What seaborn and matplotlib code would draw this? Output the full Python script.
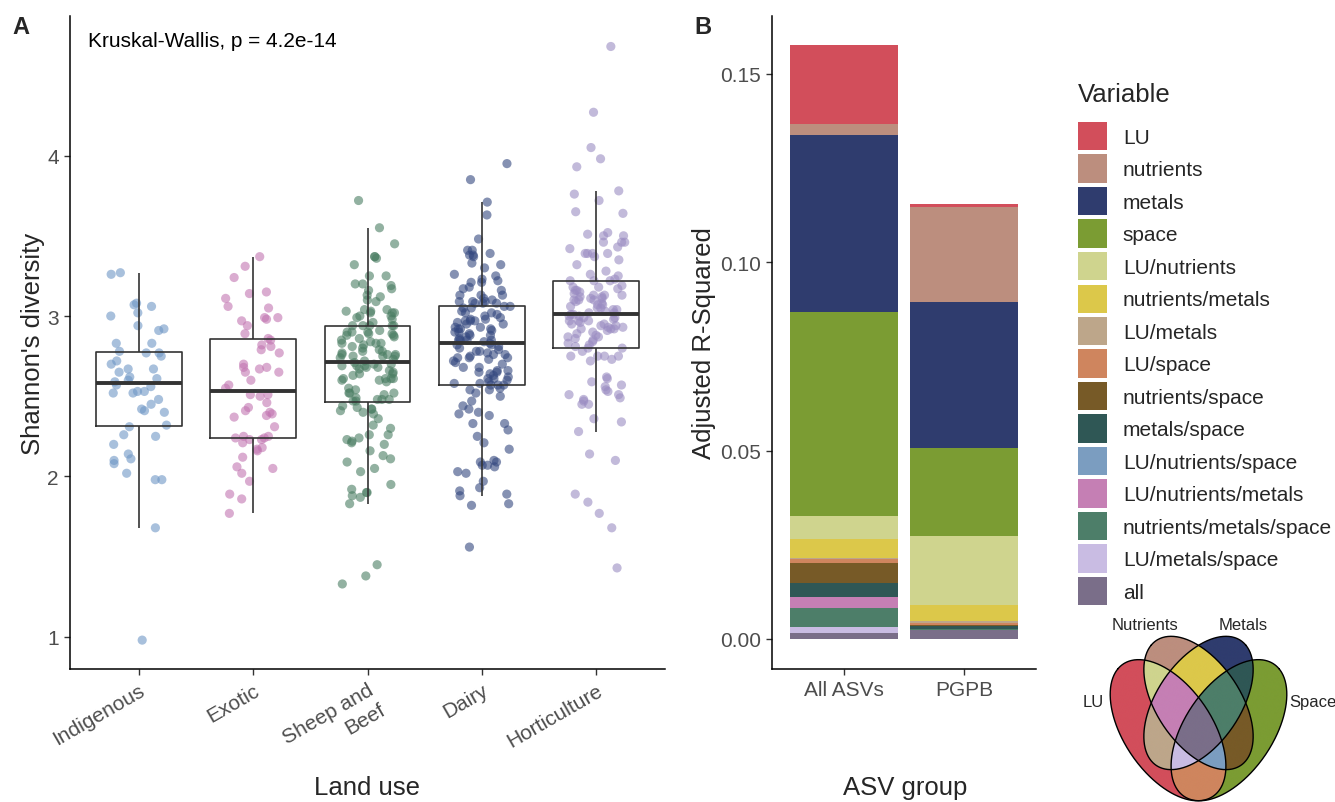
import numpy as np
import pandas as pd
import matplotlib.pyplot as plt
import seaborn as sns
from matplotlib.patches import Patch


land_use = ["Indigenous", "Exotic", "Sheep and\nBeef", "Dairy", "Horticulture"]

indigenous = [3.27, 3.26, 3.08, 3.06, 3.07, 3.02, 3.00, 2.94, 2.92, 2.91, 2.83, 2.83, 2.75,
              2.77, 2.78, 2.77, 2.70, 2.72, 2.67, 2.65, 2.67, 2.61, 2.62, 2.60, 2.57, 2.59,
              2.56, 2.53, 2.52, 2.53, 2.52, 2.48, 2.45, 2.41, 2.42, 2.40, 2.32, 2.31, 2.26,
              2.25, 2.20, 2.11, 2.10, 2.14, 2.08, 2.02, 1.98, 1.98, 1.68, 0.98]

exotic = [3.37, 3.31, 3.24, 3.14, 3.15, 3.06, 3.11, 3.05, 2.97, 2.99, 2.98, 2.99, 2.94, 2.89,
          2.85, 2.86, 2.82, 2.81, 2.79, 2.77, 2.70, 2.68, 2.65, 2.68, 2.67, 2.65, 2.60, 2.57,
          2.55, 2.51, 2.51, 2.50, 2.46, 2.43, 2.41, 2.37, 2.40, 2.39, 2.38, 2.31, 2.23, 2.24,
          2.24, 2.25, 2.25, 2.23, 2.21, 2.17, 2.18, 2.16, 2.12, 2.06, 2.05, 2.02, 1.97, 1.89,
          1.86, 1.77]

sheep_beef = [3.72, 3.55, 3.45, 3.37, 3.32, 3.36, 3.37, 3.25, 3.25, 3.19, 3.20, 3.20, 3.16,
              3.17, 3.12, 3.13, 3.10, 3.09, 3.04, 3.02, 3.02, 3.02, 3.04, 3.03, 3.03, 3.00,
              3.00, 2.99, 2.98, 2.94, 2.94, 2.94, 2.96, 2.94, 2.94, 2.90, 2.91, 2.89, 2.90,
              2.88, 2.90, 2.89, 2.88, 2.87, 2.86, 2.85, 2.84, 2.83, 2.83, 2.83, 2.81, 2.79,
              2.77, 2.76, 2.76, 2.75, 2.76, 2.75, 2.75, 2.69, 2.68, 2.70, 2.67, 2.69, 2.70,
              2.69, 2.68, 2.65, 2.64, 2.63, 2.60, 2.59, 2.61, 2.61, 2.60, 2.61, 2.61, 2.52,
              2.52, 2.52, 2.54, 2.51, 2.55, 2.49, 2.48, 2.47, 2.48, 2.48, 2.43, 2.47, 2.41,
              2.40, 2.44, 2.42, 2.36, 2.42, 2.39, 2.32, 2.30, 2.26, 2.26, 2.24, 2.23, 2.21,
              2.20, 2.22, 2.13, 2.11, 2.16, 2.09, 2.05, 2.03, 1.95, 1.92, 1.88, 1.90, 1.90,
              1.83, 1.87, 1.45, 1.38, 1.33,
              2.80, 2.78, 2.72, 2.74, 2.71, 2.73, 2.66, 2.64, 2.78, 2.82]

dairy = [3.95, 3.85, 3.71, 3.63, 3.48, 3.41, 3.41, 3.39, 3.38, 3.38, 3.37, 3.33, 3.32, 3.30,
         3.26, 3.25, 3.23, 3.22, 3.21, 3.21, 3.16, 3.17, 3.18, 3.13, 3.13, 3.13, 3.09, 3.11,
         3.10, 3.09, 3.08, 3.09, 3.08, 3.08, 3.05, 3.06, 3.06, 3.05, 3.02, 3.02, 3.01, 2.99,
         2.98, 2.97, 2.96, 2.97, 2.98, 2.95, 2.93, 2.92, 2.92, 2.91, 2.92, 2.90, 2.90, 2.88,
         2.89, 2.85, 2.85, 2.85, 2.84, 2.85, 2.82, 2.82, 2.79, 2.78, 2.78, 2.76, 2.74, 2.74,
         2.76, 2.74, 2.71, 2.72, 2.66, 2.68, 2.65, 2.64, 2.65, 2.61, 2.61, 2.58, 2.58, 2.57,
         2.57, 2.57, 2.59, 2.55, 2.54, 2.52, 2.54, 2.50, 2.47, 2.44, 2.42, 2.40, 2.39, 2.38,
         2.33, 2.33, 2.29, 2.25, 2.21, 2.17, 2.10, 2.07, 2.09, 2.09, 2.06, 2.02, 2.03, 2.07,
         1.97, 1.93, 1.88, 1.89, 1.91, 1.83, 1.82, 1.56,
         2.60, 2.62, 2.63, 2.66, 2.68, 2.70, 2.73, 2.75, 2.77, 2.80, 2.81, 2.83, 2.86, 2.87,
         2.88, 2.93, 2.95, 2.97, 3.00, 3.03]

horticulture = [4.68, 4.27, 4.05, 3.98, 3.93, 3.78, 3.76, 3.72, 3.64, 3.65, 3.52, 3.50, 3.46,
                3.51, 3.50, 3.46, 3.46, 3.43, 3.39, 3.42, 3.39, 3.35, 3.37, 3.39, 3.39, 3.32,
                3.28, 3.26, 3.25, 3.22, 3.17, 3.18, 3.23, 3.22, 3.22, 3.13, 3.16, 3.13, 3.13,
                3.12, 3.12, 3.15, 3.11, 3.08, 3.07, 3.10, 3.10, 3.10, 3.05, 3.04, 3.05, 3.02,
                3.02, 2.97, 2.99, 3.00, 2.97, 2.95, 2.94, 2.92, 2.93, 2.92, 2.91, 2.93, 2.94,
                2.85, 2.87, 2.87, 2.83, 2.88, 2.82, 2.81, 2.80, 2.75, 2.75, 2.72, 2.73, 2.75,
                2.75, 2.62, 2.59, 2.61, 2.57, 2.56, 2.54, 2.53, 2.49, 2.51, 2.47, 2.51, 2.48,
                2.45, 2.45, 2.36, 2.34, 2.28, 2.14, 2.10, 1.89, 1.84, 1.77, 1.68, 1.43,
                2.78, 2.80, 2.84, 2.86, 2.89, 2.90, 2.92, 2.95, 2.96, 2.98, 2.99, 3.00, 3.01,
                3.03, 3.04, 3.06, 3.07, 3.09, 3.11, 3.14, 3.16, 3.18, 3.19, 2.97, 3.01]

point_colours = ["#6F97C6", "#C275B1", "#4A7D62", "#34487F", "#9A8CC2"]
kruskal_label = "Kruskal-Wallis, p = 4.2e-14"

# ---- panel B: variance partitioning (adjusted R-squared per fraction)
asv_groups = ["All ASVs", "PGPB"]
variables = ["LU", "nutrients", "metals", "space", "LU/nutrients", "nutrients/metals",
             "LU/metals", "LU/space", "nutrients/space", "metals/space",
             "LU/nutrients/space", "LU/nutrients/metals", "nutrients/metals/space",
             "LU/metals/space", "all"]
all_asvs_r2 = [0.0209, 0.0031, 0.0468, 0.0543, 0.0061, 0.0050, 0.0002, 0.0012, 0.0053,
               0.0037, 0.0001, 0.0029, 0.0050, 0.0016, 0.0015]
pgpb_r2 = [0.0008, 0.0252, 0.0387, 0.0236, 0.0183, 0.0042, 0.0004, 0.0006, 0.0004,
           0.0007, 0.0000, 0.0000, 0.0002, 0.0000, 0.0024]
variable_colours = ["#D24E5B", "#BC8E7E", "#2F3C6E", "#7B9C33", "#CFD48E", "#DCC84A",
                    "#BDA68A", "#CF855E", "#775A27", "#2F5755", "#7B9DC0", "#C57FB4",
                    "#4D7E69", "#C9BCE3", "#7A6E89"]

# four-set Venn key: (centre x, centre y, semi-axis a, semi-axis b, rotation)
venn_names = ["LU", "Nutrients", "Metals", "Space"]
venn_ellipses = [(0.35, 0.47, 0.35, 0.20, 135),
                 (0.50, 0.58, 0.33, 0.19, 135),
                 (0.50, 0.58, 0.33, 0.19, 45),
                 (0.65, 0.47, 0.35, 0.20, 45)]


sns.set_theme(style="ticks")
plt.rcParams["font.family"] = ["Liberation Sans", "DejaVu Sans"]
plt.rcParams["axes.linewidth"] = 1.1

W, H = 1335, 803
fig = plt.figure(figsize=(W / 100, H / 100), dpi=100)


def px_axes(left, top, right, bottom):
    return fig.add_axes([left / W, 1 - bottom / H, (right - left) / W, (bottom - top) / H])


def style_axes(ax):
    sns.despine(ax=ax)
    for s in ("left", "bottom"):
        ax.spines[s].set_color("black")
        ax.spines[s].set_linewidth(1.1)
    ax.tick_params(length=4, width=1.0, color="#333333", labelsize=15,
                   labelcolor="#4D4D4D", pad=4)


# ---- panel A
groups = [indigenous, exotic, sheep_beef, dairy, horticulture]
div = pd.DataFrame({"land_use": np.repeat(land_use, [len(g) for g in groups]),
                    "shannon": np.concatenate(groups)})

axA = px_axes(70, 17, 665, 670)
np.random.seed(11)
sns.stripplot(data=div, x="land_use", y="shannon", hue="land_use", order=land_use,
              hue_order=land_use, palette=point_colours, jitter=0.25, size=6.6,
              alpha=0.6, linewidth=0, legend=False, zorder=1, ax=axA)
sns.boxplot(data=div, x="land_use", y="shannon", order=land_use, fill=False,
            color="#333333", linewidth=1.2, width=0.75, showfliers=False,
            showcaps=False, medianprops=dict(linewidth=2.8), ax=axA)

axA.set_xlim(-0.6, 4.6)
axA.set_ylim(0.80, 4.87)
axA.set_yticks([1, 2, 3, 4])
style_axes(axA)
axA.set_xticks(range(len(land_use)))
axA.set_xticklabels(land_use, rotation=30, ha="right", va="top",
                    rotation_mode="anchor", multialignment="right")
axA.set_xlabel("Land use", fontsize=18.5)
axA.set_ylabel("Shannon's diversity", fontsize=18.5)
axA.xaxis.set_label_coords(0.5, (670 - 776) / 653)
axA.yaxis.set_label_coords((33 - 70) / 595, 0.5)
axA.yaxis.label.set_va("center")
axA.text(0.030, 0.962, kruskal_label, transform=axA.transAxes, fontsize=15,
         ha="left", va="center", color="black")

# ---- panel B
r2 = pd.DataFrame({"group": np.repeat(asv_groups, len(variables)),
                   "variable": variables * len(asv_groups),
                   "r2": all_asvs_r2 + pgpb_r2})

axB = px_axes(772, 17, 1036, 670)
sns.histplot(data=r2, x="group", hue="variable", weights="r2", multiple="stack",
             discrete=True, shrink=0.9, hue_order=variables, palette=variable_colours,
             alpha=1, linewidth=0, legend=False, ax=axB)
axB.set_xlim(-0.6, 1.6)
axB.set_ylim(-0.008, 0.1654)
axB.set_yticks([0, 0.05, 0.10, 0.15])
axB.set_yticklabels(["0.00", "0.05", "0.10", "0.15"])
axB.set_xticks(range(len(asv_groups)))
axB.set_xticklabels(asv_groups)
style_axes(axB)
axB.set_xlabel("ASV group", fontsize=18.5)
axB.set_ylabel("Adjusted R-Squared", fontsize=18.5)
axB.xaxis.set_label_coords((905 - 772) / 264, (670 - 776) / 653)
axB.yaxis.set_label_coords((704 - 772) / 264, 0.5)
axB.yaxis.label.set_va("center")

fig.text(21 / W, 1 - 27 / H, "A", fontsize=17, fontweight="bold", ha="center", va="center")
fig.text(703 / W, 1 - 27 / H, "B", fontsize=17, fontweight="bold", ha="center", va="center")

# legend (title drawn separately so the gap above the keys can be set)
fig.text(1078 / W, 1 - 95 / H, "Variable", fontsize=18.5, ha="left", va="center")
handles = [Patch(facecolor=c, edgecolor="none") for c in variable_colours]
fig.legend(handles, variables, loc="upper left", bbox_to_anchor=(1078 / W, 1 - 123 / H),
           frameon=False, fontsize=15, handlelength=1.4, handleheight=1.7,
           labelspacing=0.21, handletextpad=0.75, borderpad=0, borderaxespad=0)

# ---- Venn key
axV = px_axes(1097, 600, 1300, 803)
xs = np.linspace(0, 1, 800)
ys = np.linspace(0.18, 1.0, 800)
X, Y = np.meshgrid(xs, ys)
code = np.zeros(X.shape, dtype=int)
for k, (cx, cy, a, b, rot) in enumerate(venn_ellipses):
    t = np.deg2rad(rot)
    u = (X - cx) * np.cos(t) + (Y - cy) * np.sin(t)
    v = -(X - cx) * np.sin(t) + (Y - cy) * np.cos(t)
    code += ((u / a) ** 2 + (v / b) ** 2 <= 1).astype(int) << k

bit = {"LU": 1, "nutrients": 2, "metals": 4, "space": 8}
img = np.zeros(X.shape + (4,))
for name, col in zip(variables, variable_colours):
    c = 15 if name == "all" else sum(bit[p] for p in name.split("/"))
    img[code == c] = plt.matplotlib.colors.to_rgba(col)
axV.imshow(img, extent=(0, 1, 0.18, 1.0), origin="lower", aspect="auto",
           interpolation="antialiased")
tt = np.linspace(0, 2 * np.pi, 400)
for cx, cy, a, b, rot in venn_ellipses:
    t = np.deg2rad(rot)
    axV.plot(cx + a * np.cos(tt) * np.cos(t) - b * np.sin(tt) * np.sin(t),
             cy + a * np.cos(tt) * np.sin(t) + b * np.sin(tt) * np.cos(t),
             color="black", lw=1.0)
axV.set_xlim(0, 1)
axV.set_ylim(0.18, 1.0)
axV.axis("off")

for name, (x, y, ha) in zip(venn_names, [(1093, 703, "center"), (1145, 626, "center"),
                                         (1243, 626, "center"), (1289, 703, "left")]):
    fig.text(x / W, 1 - y / H, name, fontsize=12, ha=ha, va="center")

fig.savefig("out.png", dpi=100)
